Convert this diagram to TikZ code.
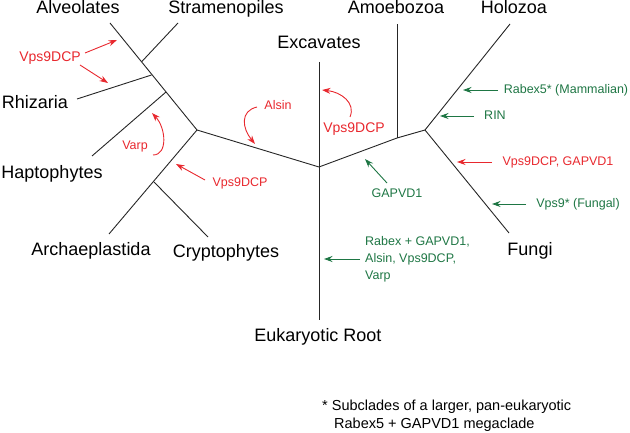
\documentclass[tikz,border=0pt]{standalone}
\usepackage{fontspec}
\setmainfont{Liberation Sans}
\usetikzlibrary{arrows.meta}
\definecolor{ared}{RGB}{232,40,46}
\definecolor{agreen}{RGB}{30,118,68}
\begin{document}
\begin{tikzpicture}[x=1pt,y=-1pt,
  branch/.style={line width=0.9pt, draw=black!85},
  taxon/.style={font=\fontsize{18}{21}\selectfont, inner sep=0pt, anchor=base},
  redlab/.style={text=ared, font=\fontsize{12.5}{17}\selectfont, inner sep=0pt, anchor=base},
  bigred/.style={redlab, font=\fontsize{14}{17}\selectfont},
  greenlab/.style={text=agreen, font=\fontsize{12.5}{17}\selectfont, inner sep=0pt, anchor=base},
  redarr/.style={draw=ared, line width=0.9pt, -{Stealth[length=8.5pt,width=6pt]}},
  greenarr/.style={draw=agreen, line width=0.9pt, -{Stealth[length=8.5pt,width=6pt]}},
  note/.style={font=\fontsize{14.5}{18}\selectfont, inner sep=0pt, align=left, anchor=west}]
\useasboundingbox (0,0) rectangle (630,433);

% tips
\coordinate (alv) at (110,23);
\coordinate (stra) at (178,23);
\coordinate (rhi) at (77,99);
\coordinate (hap) at (92,156);
\coordinate (arch) at (109,234);
\coordinate (cryp) at (208,237);
\coordinate (exc) at (319,62);
\coordinate (rootend) at (319,320);
\coordinate (amo) at (397,24);
\coordinate (holo) at (510,24);
\coordinate (fun) at (509,233);
% junctions
\coordinate (jS) at (141.7,61.7);
\coordinate (jR) at (151.5,75);
\coordinate (jH) at (166,92);
\coordinate (jA) at (197,130);
\coordinate (jC) at (154,182);
\coordinate (jE) at (319,167);
\coordinate (jM) at (397,138);
\coordinate (jF) at (425,130);

% branches
\draw[branch] (alv) -- (jA);
\draw[branch] (stra) -- (jS);
\draw[branch] (rhi) -- (jR);
\draw[branch] (hap) -- (jH);
\draw[branch] (jA) -- (arch);
\draw[branch] (jC) -- (cryp);
\draw[branch] (jA) -- (jE);
\draw[branch] (exc) -- (rootend);
\draw[branch] (jE) -- (jM) -- (jF);
\draw[branch] (jM) -- (amo);
\draw[branch] (jF) -- (holo);
\draw[branch] (jF) -- (fun);

% taxon labels
\node[taxon] (tAlv) at (78,14) {Alveolates};
\node[taxon] (tStra) at (226,14) {Stramenopiles};
\node[taxon] (tExc) at (319,49) {Excavates};
\node[taxon] (tAmo) at (396,14) {Amoebozoa};
\node[taxon] (tHolo) at (514,14) {Holozoa};
\node[taxon] (tRhi) at (35,109) {Rhizaria};
\node[taxon] (tHap) at (52,179) {Haptophytes};
\node[taxon] (tArch) at (91,256) {Archaeplastida};
\node[taxon] (tCryp) at (226,258) {Cryptophytes};
\node[taxon] (tRoot) at (318,341.5) {Eukaryotic Root};
\node[taxon] (tFun) at (530,256) {Fungi};

% red annotations
\node[bigred] (rV1) at (50,61.5) {Vps9DCP};
\node[redlab] (rAlsin) at (278,110) {Alsin};
\node[redlab] (rVarp) at (135,150) {Varp};
\node[redlab] (rV2) at (240,187) {Vps9DCP};
\node[bigred] (rV3) at (354,132.5) {Vps9DCP};
\node[redlab] (rVG) at (558,166) {Vps9DCP, GAPVD1};

% green annotations
\node[greenlab] (gRab) at (566,93.5) {Rabex5* (Mammalian)};
\node[greenlab] (gRIN) at (495,120) {RIN};
\node[greenlab] (gGAP) at (397,197.5) {GAPVD1};
\node[greenlab] (gVps) at (578,207.5) {Vps9* (Fungal)};
\node[greenlab, anchor=west, align=left] (gRoot) at (365,259.5) {Rabex + GAPVD1,\\Alsin, Vps9DCP,\\Varp};

% footnote
\node[note] (foot) at (322,416) {* Subclades of a larger, pan-eukaryotic\\\hspace*{12pt}Rabex5 + GAPVD1 megaclade};

% arrow end points
\coordinate (s1) at (85,53);   \coordinate (e1) at (117,40);
\coordinate (s2) at (80,65);   \coordinate (e2) at (108,83);
\coordinate (s3) at (153,155); \coordinate (e3) at (152,113);
\coordinate (s4) at (257,107); \coordinate (e4) at (255,144);
\coordinate (s5) at (205,180); \coordinate (e5) at (176,164);
\coordinate (s6) at (350,117); \coordinate (e6) at (322,90);
\coordinate (s7) at (492,162); \coordinate (e7) at (457,162);
\coordinate (g1s) at (498,90);  \coordinate (g1e) at (463,90);
\coordinate (g2s) at (474,116); \coordinate (g2e) at (440,116);
\coordinate (g3s) at (387,183); \coordinate (g3e) at (365,159);
\coordinate (g4s) at (526,204); \coordinate (g4e) at (492,204);
\coordinate (g5s) at (360,259); \coordinate (g5e) at (324,259);

% red arrows
\draw[redarr] (s1) -- (e1);
\draw[redarr] (s2) -- (e2);
\draw[redarr] (s3) .. controls (168,155) and (166,128) .. (e3);
\draw[redarr] (s4) .. controls (240,111) and (242,128) .. (e4);
\draw[redarr] (s5) -- (e5);
\draw[redarr] (s6) .. controls (356,103) and (341,92) .. (e6);
\draw[redarr] (s7) -- (e7);

% green arrows
\draw[greenarr] (g1s) -- (g1e);
\draw[greenarr] (g2s) -- (g2e);
\draw[greenarr] (g3s) -- (g3e);
\draw[greenarr] (g4s) -- (g4e);
\draw[greenarr] (g5s) -- (g5e);
\end{tikzpicture}
\end{document}
